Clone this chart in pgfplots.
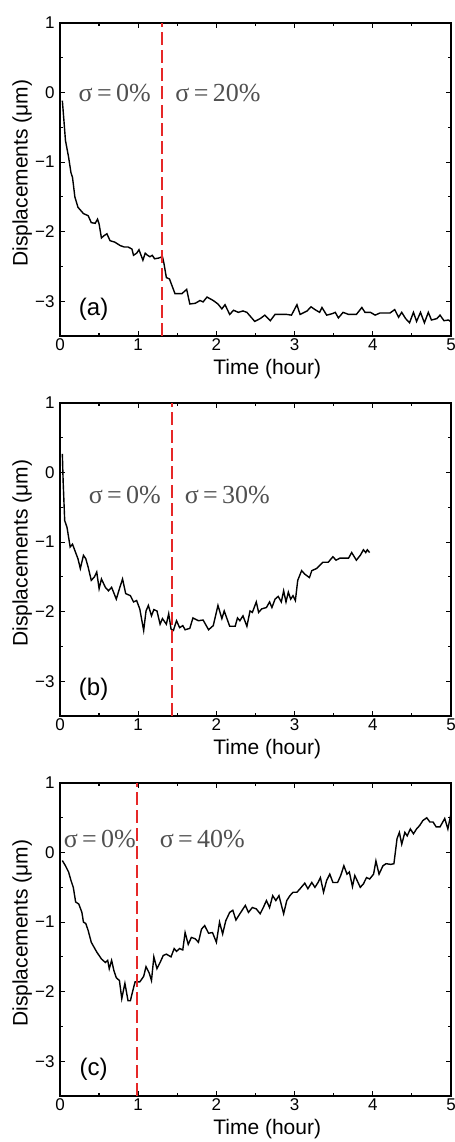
\documentclass[border=0pt]{standalone}
\usepackage{fontspec}
\setmainfont{Liberation Sans}
\newfontfamily\serifann{Liberation Serif}
\usepackage{pgfplots}
\pgfplotsset{compat=1.18}
\definecolor{dashred}{RGB}{230,40,40}
\definecolor{anngray}{RGB}{80,80,80}

\pgfplotstableread{
t d
0.03 -0.115
0.05 -0.40
0.07 -0.69
0.11 -0.93
0.14 -1.15
0.16 -1.22
0.19 -1.50
0.23 -1.65
0.30 -1.74
0.36 -1.77
0.40 -1.87
0.45 -1.88
0.48 -1.82
0.50 -1.89
0.53 -2.09
0.56 -2.06
0.60 -2.03
0.64 -2.13
0.70 -2.15
0.77 -2.20
0.82 -2.22
0.87 -2.22
0.92 -2.25
0.94 -2.34
0.98 -2.31
1.01 -2.26
1.06 -2.41
1.09 -2.31
1.12 -2.34
1.15 -2.36
1.18 -2.34
1.21 -2.39
1.26 -2.38
1.31 -2.36
1.33 -2.46
1.36 -2.66
1.40 -2.68
1.43 -2.77
1.47 -2.89
1.56 -2.89
1.62 -2.83
1.66 -3.04
1.73 -3.03
1.79 -2.99
1.83 -3.01
1.88 -2.94
1.96 -2.99
2.02 -3.04
2.07 -3.11
2.11 -3.05
2.17 -3.19
2.22 -3.13
2.28 -3.16
2.34 -3.14
2.39 -3.16
2.49 -3.29
2.56 -3.25
2.62 -3.20
2.69 -3.28
2.75 -3.19
2.90 -3.19
2.96 -3.20
3.03 -3.05
3.07 -3.19
3.16 -3.14
3.21 -3.08
3.26 -3.12
3.32 -3.16
3.35 -3.09
3.41 -3.20
3.48 -3.18
3.52 -3.16
3.56 -3.24
3.62 -3.16
3.69 -3.19
3.79 -3.19
3.86 -3.09
3.90 -3.16
3.97 -3.16
4.03 -3.20
4.09 -3.17
4.22 -3.17
4.28 -3.12
4.33 -3.23
4.37 -3.16
4.42 -3.25
4.47 -3.31
4.52 -3.16
4.56 -3.29
4.61 -3.16
4.66 -3.31
4.71 -3.16
4.75 -3.27
4.82 -3.25
4.86 -3.20
4.91 -3.28
4.97 -3.27
5.00 -3.30
}\dataA

\pgfplotstableread{
t d
0.03 0.27
0.04 -0.12
0.06 -0.69
0.09 -0.79
0.11 -0.93
0.13 -1.07
0.16 -1.03
0.19 -1.12
0.23 -1.24
0.26 -1.38
0.30 -1.19
0.33 -1.24
0.36 -1.36
0.40 -1.55
0.44 -1.50
0.47 -1.43
0.50 -1.67
0.53 -1.53
0.58 -1.65
0.62 -1.70
0.66 -1.65
0.72 -1.82
0.76 -1.67
0.80 -1.53
0.84 -1.74
0.90 -1.77
0.94 -1.86
0.98 -1.84
1.02 -1.96
1.07 -2.27
1.10 -1.99
1.13 -1.91
1.17 -2.06
1.20 -1.97
1.24 -1.99
1.28 -2.18
1.31 -2.10
1.36 -2.18
1.39 -2.03
1.42 -2.25
1.45 -2.27
1.49 -2.13
1.53 -2.23
1.57 -2.20
1.60 -2.26
1.66 -2.24
1.70 -2.09
1.77 -2.13
1.83 -2.12
1.90 -2.26
1.96 -2.20
2.02 -1.91
2.07 -2.10
2.10 -1.99
2.17 -2.21
2.24 -2.21
2.27 -2.09
2.30 -2.13
2.34 -2.06
2.39 -2.21
2.43 -1.99
2.46 -2.01
2.51 -1.86
2.54 -2.01
2.58 -1.96
2.64 -1.94
2.68 -1.86
2.71 -1.94
2.75 -1.82
2.79 -1.78
2.83 -1.86
2.86 -1.70
2.89 -1.86
2.92 -1.72
2.95 -1.82
2.98 -1.77
3.01 -1.84
3.04 -1.55
3.09 -1.41
3.13 -1.46
3.19 -1.51
3.22 -1.41
3.28 -1.38
3.36 -1.29
3.43 -1.29
3.49 -1.21
3.53 -1.26
3.58 -1.23
3.69 -1.23
3.73 -1.15
3.79 -1.26
3.84 -1.19
3.88 -1.11
3.91 -1.15
3.93 -1.11
3.96 -1.15
}\dataB

\pgfplotstableread{
t d
0.03 -0.115
0.07 -0.19
0.11 -0.28
0.14 -0.40
0.17 -0.50
0.20 -0.71
0.24 -0.74
0.28 -0.86
0.30 -1.00
0.33 -1.02
0.36 -1.12
0.40 -1.29
0.47 -1.43
0.53 -1.53
0.58 -1.58
0.61 -1.55
0.63 -1.67
0.66 -1.55
0.69 -1.70
0.72 -1.80
0.76 -1.84
0.79 -2.10
0.83 -1.88
0.87 -2.13
0.90 -2.13
0.93 -1.99
0.96 -1.86
0.98 -1.86
1.02 -1.86
1.07 -1.78
1.10 -1.64
1.14 -1.73
1.17 -1.84
1.20 -1.50
1.24 -1.67
1.28 -1.58
1.32 -1.48
1.36 -1.46
1.42 -1.50
1.46 -1.38
1.49 -1.42
1.53 -1.38
1.57 -1.40
1.60 -1.15
1.64 -1.32
1.68 -1.22
1.73 -1.24
1.77 -1.29
1.81 -1.10
1.85 -1.05
1.90 -1.16
1.95 -1.15
2.00 -1.29
2.04 -1.00
2.08 -1.17
2.12 -0.98
2.17 -0.86
2.21 -0.83
2.25 -0.97
2.30 -0.88
2.37 -0.76
2.41 -0.86
2.46 -0.79
2.51 -0.81
2.56 -0.88
2.60 -0.79
2.64 -0.69
2.68 -0.79
2.72 -0.62
2.76 -0.69
2.80 -0.62
2.86 -0.88
2.90 -0.69
2.94 -0.62
2.98 -0.57
3.03 -0.57
3.07 -0.52
3.13 -0.44
3.17 -0.52
3.22 -0.43
3.26 -0.50
3.30 -0.43
3.33 -0.36
3.37 -0.57
3.41 -0.40
3.45 -0.31
3.49 -0.43
3.55 -0.43
3.59 -0.33
3.63 -0.19
3.67 -0.31
3.70 -0.28
3.74 -0.49
3.77 -0.33
3.84 -0.50
3.88 -0.45
3.92 -0.36
3.96 -0.38
4.01 -0.31
4.04 -0.12
4.08 -0.31
4.13 -0.19
4.17 -0.16
4.23 -0.17
4.27 -0.16
4.31 0.20
4.34 0.29
4.37 0.12
4.41 0.29
4.44 0.24
4.48 0.34
4.52 0.27
4.56 0.34
4.60 0.39
4.64 0.46
4.69 0.50
4.73 0.44
4.77 0.44
4.81 0.37
4.86 0.37
4.92 0.49
4.96 0.34
5.00 0.56
}\dataC

\tikzset{
  ann/.style={anchor=center, text=anngray, inner sep=0pt, font=\serifann\fontsize{13}{14}\selectfont},
  plab/.style={anchor=center, font=\fontsize{12}{14}\selectfont},
}
\pgfplotsset{
  panel/.style={
    scale only axis, width=195.5pt, height=156.5pt,
    anchor=north west,
    xmin=0, xmax=5, ymin=-3.5, ymax=1,
    xtick={0,1,2,3,4,5},
    ytick={-3,-2,-1,0,1},
    yticklabels={−3,−2,−1,0,1},
    minor x tick num=1, minor y tick num=1,
    tick align=inside,
    major tick length=2.6pt, minor tick length=1.6pt,
    axis line style={line width=0.75pt},
    every tick/.style={black, line width=0.6pt},
    /pgf/number format/assume math mode=true,
    tick label style={font=\fontsize{8.5}{10}\selectfont},
    xticklabel style={inner sep=0.5pt, yshift=-0.5pt},
    yticklabel style={inner sep=0pt, xshift=-2.5pt},
    xlabel={Time (hour)},
    ylabel={Displacements (μm)},
    label style={font=\fontsize{10.5}{12}\selectfont},
    xlabel style={at={(axis description cs:0.53,-0.105)}, anchor=center},
    ylabel style={at={(axis description cs:-0.097,0.52)}, anchor=center},
    clip=true,
  },
  curve/.style={black, line width=0.7pt, no markers},
  vline/.style={dashred, line width=1pt, dash pattern=on 6.5pt off 2.6pt, no markers},
}

\begin{document}
\begin{tikzpicture}
\begin{axis}[panel, at={(0pt,0pt)}]
  \addplot[curve] table[x=t,y=d] {\dataA};
  \addplot[vline] coordinates {(1.31,-3.5) (1.31,1)};
  \node[ann] at (axis cs:0.70,0.0) {σ\,=\,0\%};
  \node[ann] at (axis cs:2.02,0.0) {σ\,=\,20\%};
  \node[plab] at (axis cs:0.43,-3.12) {(a)};
\end{axis}
\begin{axis}[panel, at={(0pt,-190pt)}]
  \addplot[curve] table[x=t,y=d] {\dataB};
  \addplot[vline] coordinates {(1.43,-3.5) (1.43,1)};
  \node[ann] at (axis cs:0.83,-0.33) {σ\,=\,0\%};
  \node[ann] at (axis cs:2.14,-0.33) {σ\,=\,30\%};
  \node[plab] at (axis cs:0.43,-3.12) {(b)};
\end{axis}
\begin{axis}[panel, at={(0pt,-380pt)}]
  \addplot[curve] table[x=t,y=d] {\dataC};
  \addplot[vline] coordinates {(0.99,-3.5) (0.99,1)};
  \node[ann] at (axis cs:0.51,0.19) {σ\,=\,0\%};
  \node[ann] at (axis cs:1.82,0.19) {σ\,=\,40\%};
  \node[plab] at (axis cs:0.43,-3.12) {(c)};
\end{axis}
\pgfresetboundingbox
\useasboundingbox (-30pt,11.5pt) rectangle (197.5pt,-559.5pt);
\end{tikzpicture}
\end{document}
